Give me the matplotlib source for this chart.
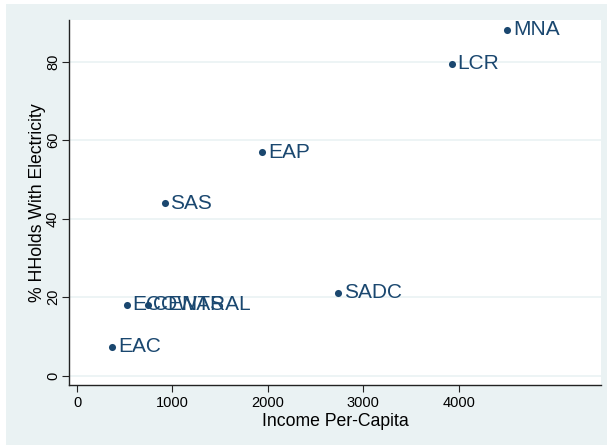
import matplotlib
matplotlib.use("Agg")
import matplotlib.pyplot as plt
from matplotlib.patches import Rectangle

regions = ["MNA", "LCR", "EAP", "SAS", "SADC", "ECOWAS", "CENTRAL", "EAC"]
income = [4510, 3930, 1943, 919, 2739, 525, 741, 371]
electricity = [88.1, 79.4, 56.9, 43.9, 21.1, 18.0, 18.0, 7.4]

x_ticks = [0, 1000, 2000, 3000, 4000]
y_ticks = [0, 20, 40, 60, 80]

navy = "#1a476f"
bg = "#eaf2f3"
plt.rcParams['font.family'] = ['Liberation Sans', 'DejaVu Sans']

fig = plt.figure(figsize=(6.1, 4.45), dpi=100)
fig.patch.set_facecolor("white")
W, H = 610, 445
fig.patches.append(Rectangle((6 / W, 0), (607 - 6) / W, (445 - 4) / H,
                             transform=fig.transFigure, facecolor=bg,
                             edgecolor="none", zorder=-10))

ax = fig.add_axes([69 / W, (445 - 385) / H, (601 - 69) / W, (385 - 20) / H])
ax.set_zorder(5)
ax.set_facecolor("white")
ax.set_xlim(-84, 5490)
ax.set_ylim(-2.4, 90.6)

for yv in y_ticks:
    ax.axhline(yv, color=bg, lw=1.2, zorder=0)

ax.scatter(income, electricity, s=26, color=navy, zorder=3, linewidths=0)
for lab, xv, yv in zip(regions, income, electricity):
    ax.annotate(lab, (xv, yv), xytext=(4.0, 0), textcoords="offset points",
                ha="left", va="center", fontsize=15, color=navy, zorder=4)

ax.spines["top"].set_visible(False)
ax.spines["right"].set_visible(False)
for s in ("left", "bottom"):
    ax.spines[s].set_color("#222222")
    ax.spines[s].set_linewidth(1.0)

ax.set_xticks(x_ticks)
ax.set_yticks(y_ticks)
ax.set_xticklabels([str(v) for v in x_ticks], fontsize=10.5)
ax.set_yticklabels([str(v) for v in y_ticks], fontsize=10.5, rotation=90, va="center")
ax.tick_params(axis="both", length=5, width=0.8, color="#222222", pad=3)
ax.tick_params(axis="y", pad=1.5)

ax.set_xlabel("Income Per-Capita", fontsize=12.7, labelpad=2)
ax.set_ylabel("% HHolds With Electricity", fontsize=12.7, labelpad=0)

fig.savefig("out.png", dpi=100)
